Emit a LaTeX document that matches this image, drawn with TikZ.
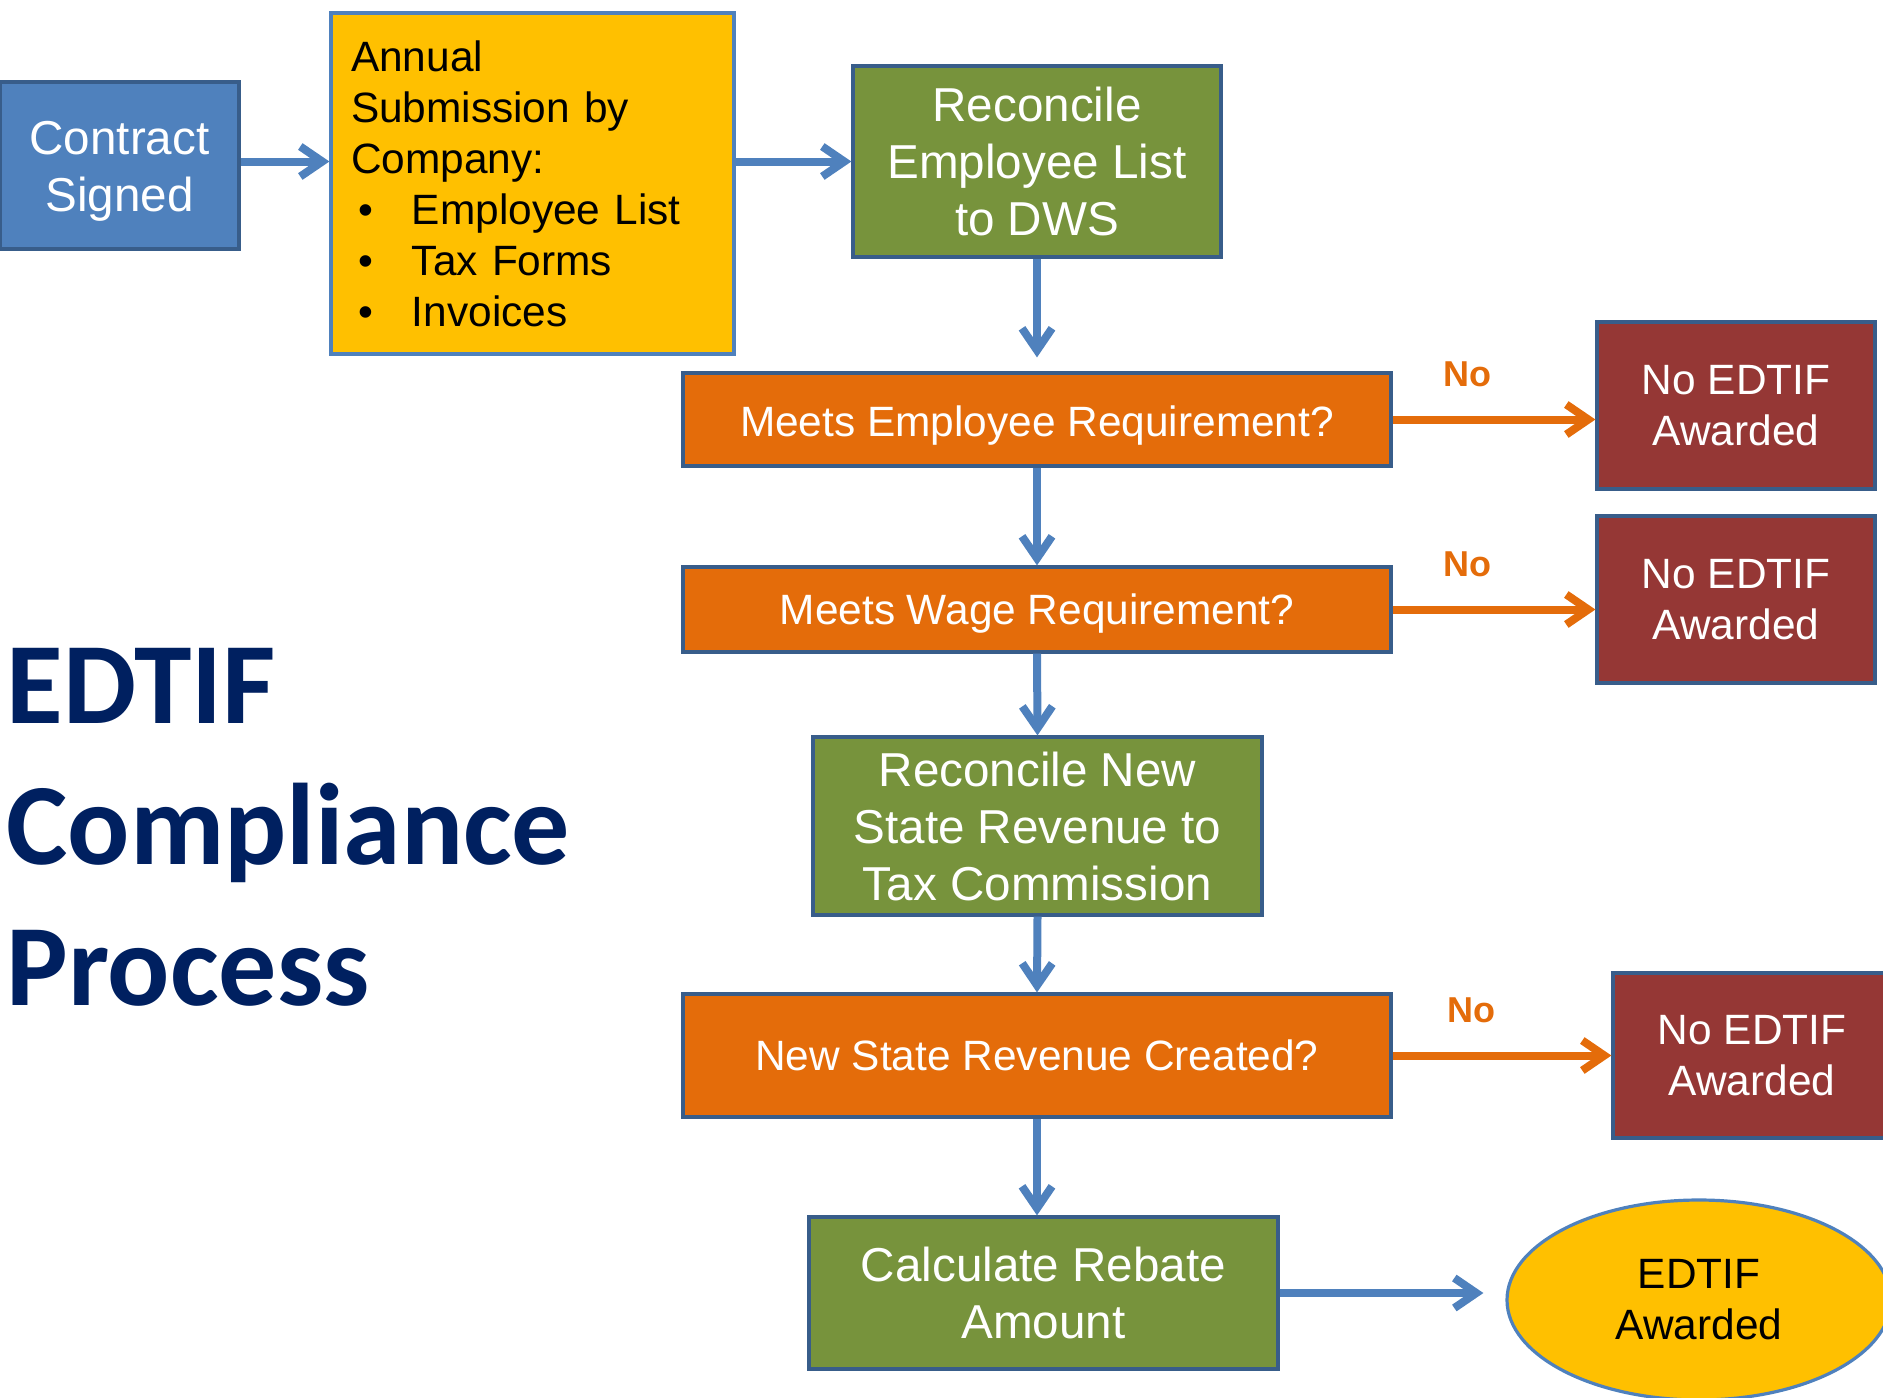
\documentclass[tikz,border=0pt]{standalone}
\usepackage{fontspec}
\setmainfont{Liberation Sans}
\newfontfamily\titlefont{Carlito}
\usetikzlibrary{positioning,shapes.geometric,arrows.meta}
\definecolor{boxblue}{HTML}{4F81BD}
\definecolor{edgeblue}{HTML}{385D8A}
\definecolor{boxgold}{HTML}{FFC000}
\definecolor{boxgreen}{HTML}{77933C}
\definecolor{boxorange}{HTML}{E46C0A}
\definecolor{boxred}{HTML}{953735}
\definecolor{titlenavy}{HTML}{002060}

\tikzset{
  block/.style={draw=edgeblue, line width=1.6pt, inner sep=0pt, align=center, text=white},
  bigtext/.style={font=\fontsize{23.8}{28.5}\selectfont},
  smalltext/.style={font=\fontsize{21.2}{25.5}\selectfont},
  flow/.style={draw=boxblue, line width=4pt, -{Straight Barb[length=11pt,width=15pt]}},
  noflow/.style={flow, draw=boxorange},
  nolabel/.style={text=boxorange, font=\fontsize{18}{20}\selectfont\bfseries, inner sep=0pt}
}
\newcommand{\itembullet}{\makebox[30.5pt][l]{\hspace{3.5pt}\textbullet}}
\newcommand{\padtop}[1]{\rule{0pt}{#1}}

\begin{document}
\begin{tikzpicture}[x=0.5pt,y=-0.5pt]
\useasboundingbox (0,0) rectangle (1883,1397);
% title on the left
\node[anchor=north west, inner sep=0pt, align=left, text=titlenavy,
  font=\titlefont\bfseries\fontsize{58}{70.5}\selectfont] (title) at (6,648) {EDTIF\\Compliance\\Process};
% top row
\node[block, fill=boxblue, bigtext, minimum width=119.5pt, minimum height=83.5pt] (contract) at (119.5,165.5) {\padtop{22.2pt}Contract\\Signed};
\node[block, draw=boxblue, fill=boxgold, text=black, smalltext, align=left,
  text width=181.5pt, minimum width=201.5pt, minimum height=170.5pt] (annual) at (532.5,183.5)
  {Annual\\Submission by\\Company:\\\itembullet Employee List\\\itembullet Tax Forms\\\itembullet Invoices};
\node[block, fill=boxgreen, bigtext, minimum width=184pt, minimum height=95.5pt] (recon) at (1037,161.5) {Reconcile\\Employee List\\to DWS};
% checks
\node[block, fill=boxorange, smalltext, minimum width=354pt, minimum height=46.5pt] (empreq) at (1037,419.5) {\padtop{21.5pt}Meets Employee Requirement?};
\node[block, fill=boxorange, smalltext, minimum width=354pt, minimum height=42.5pt] (wagereq) at (1037,609.5) {\padtop{19pt}Meets Wage Requirement?};
\node[block, fill=boxgreen, bigtext, minimum width=224.5pt, minimum height=89pt] (revrecon) at (1037.5,826) {Reconcile New\\State Revenue to\\Tax Commission};
\node[block, fill=boxorange, smalltext, minimum width=354pt, minimum height=61.5pt] (revreq) at (1037,1055.5) {New State Revenue Created?};
\node[block, fill=boxgreen, bigtext, minimum width=234.5pt, minimum height=76pt] (rebate) at (1043.5,1293) {Calculate Rebate\\Amount};
% outcomes
\node[block, fill=boxred, smalltext, minimum width=139pt, minimum height=83.5pt] (no1) at (1736,405.5) {No EDTIF\\Awarded};
\node[block, fill=boxred, smalltext, minimum width=139pt, minimum height=83.5pt] (no2) at (1736,599.5) {No EDTIF\\Awarded};
\node[block, fill=boxred, smalltext, minimum width=139pt, minimum height=82.5pt] (no3) at (1752,1055.5) {No EDTIF\\Awarded};
\node[ellipse, draw=boxblue, line width=1.6pt, fill=boxgold, inner sep=0pt, align=center, smalltext,
  minimum width=192pt, minimum height=100pt] (awarded) at (1699,1300) {EDTIF\\Awarded};
% arrows
\draw[flow] (contract.east |- recon.west) -- (annual.west |- recon.west);
\draw[flow] (annual.east |- recon.west) -- (recon.west);
\draw[flow, shorten >=7pt] (recon.south) -- (empreq.north);
\draw[flow] (empreq.south) -- (wagereq.north);
\draw[flow] (wagereq.south) -- (revrecon.north);
\draw[flow] (revrecon.south) -- (revreq.north);
\draw[flow] (revreq.south) -- (revreq.south |- rebate.north);
\draw[flow, shorten >=11pt] (rebate.east) -- (rebate.east -| awarded.west);
\draw[noflow] (empreq.east) -- (empreq.east -| no1.west) node[nolabel, pos=0.37, above=14.5pt] {No};
\draw[noflow] (wagereq.east) -- (wagereq.east -| no2.west) node[nolabel, pos=0.37, above=14.5pt] {No};
\draw[noflow] (revreq.east) -- (revreq.east -| no3.west) node[nolabel, pos=0.36, above=14.5pt] {No};
\end{tikzpicture}
\end{document}
